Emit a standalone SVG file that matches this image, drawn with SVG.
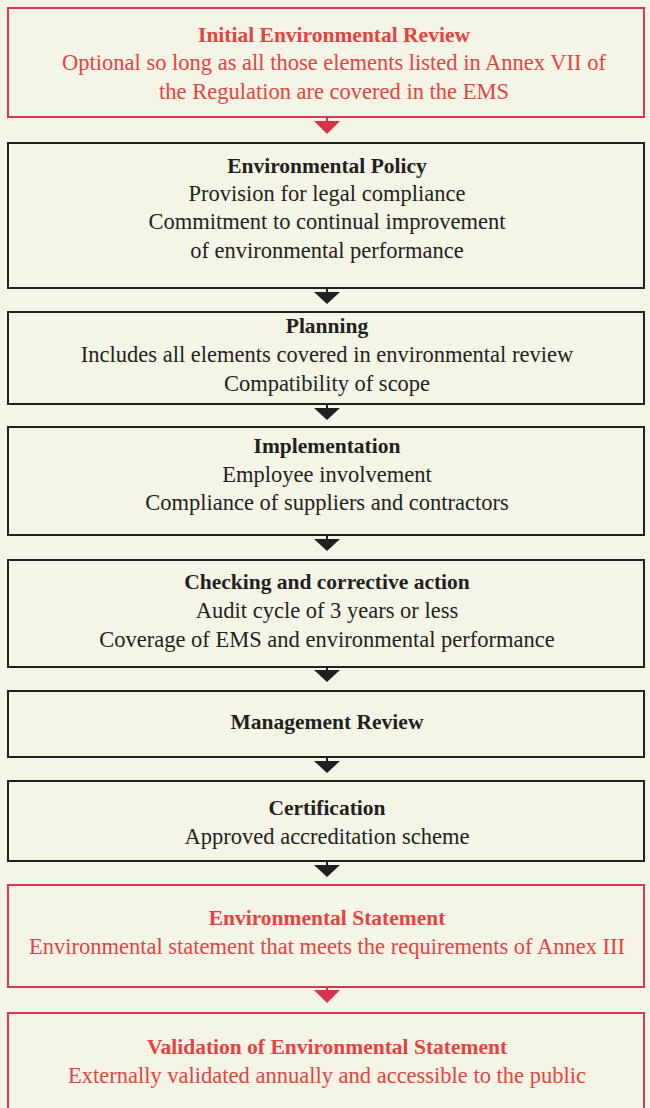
<svg xmlns="http://www.w3.org/2000/svg" width="650" height="1108" viewBox="0 0 650 1108">
<style>
.bg{fill:#f5f5e7}
.box{fill:#f5f5e7;stroke:#231f20;stroke-width:2}
.rbox{fill:#f5f5e7;stroke:#d8394f;stroke-width:2}
text{font-family:"Liberation Serif",serif;font-size:22.5px;text-anchor:middle}
.t{fill:#231f20}
.r{fill:#e8423f}
.h{font-weight:bold;font-size:21.5px}
.ka{fill:#231f20}
.ra{fill:#d6334f}
.kl{stroke:#231f20;stroke-width:2}
.rl{stroke:#d6334f;stroke-width:2}
</style>
<rect class="bg" x="0" y="0" width="650" height="1108"/>
<g id="connectors">
<line class="rl" x1="327" y1="117" x2="327" y2="122"/><polygon class="ra" points="314,121 340,121 327,134"/>
<line class="kl" x1="327" y1="288" x2="327" y2="293"/><polygon class="ka" points="314,292 340,292 327,304"/>
<line class="kl" x1="327" y1="404" x2="327" y2="409"/><polygon class="ka" points="314,408 340,408 327,420"/>
<line class="kl" x1="327" y1="535" x2="327" y2="540"/><polygon class="ka" points="314,539 340,539 327,551"/>
<line class="kl" x1="327" y1="667" x2="327" y2="671"/><polygon class="ka" points="314,670 340,670 327,682"/>
<line class="kl" x1="327" y1="757" x2="327" y2="762"/><polygon class="ka" points="314,761 340,761 327,773"/>
<line class="kl" x1="327" y1="861" x2="327" y2="866"/><polygon class="ka" points="314,865 340,865 327,877"/>
<line class="rl" x1="327" y1="987" x2="327" y2="991"/><polygon class="ra" points="314,990 340,990 327,1003"/>
</g>
<g id="n1">
<rect class="rbox" x="8" y="8" width="636" height="109"/>
<text class="r h" x="334" y="42">Initial Environmental Review</text>
<text class="r" x="334" y="70">Optional so long as all those elements listed in Annex VII of</text>
<text class="r" x="334" y="99">the Regulation are covered in the EMS</text>
</g>
<g id="n2">
<rect class="box" x="8" y="143" width="636" height="145"/>
<text class="t h" x="327" y="173">Environmental Policy</text>
<text class="t" x="327" y="201">Provision for legal compliance</text>
<text class="t" x="327" y="229">Commitment to continual improvement</text>
<text class="t" x="327" y="258">of environmental performance</text>
</g>
<g id="n3">
<rect class="box" x="8" y="312" width="636" height="92"/>
<text class="t h" x="327" y="333">Planning</text>
<text class="t" x="327" y="362">Includes all elements covered in environmental review</text>
<text class="t" x="327" y="391">Compatibility of scope</text>
</g>
<g id="n4">
<rect class="box" x="8" y="427" width="636" height="108"/>
<text class="t h" x="327" y="453">Implementation</text>
<text class="t" x="327" y="482">Employee involvement</text>
<text class="t" x="327" y="510">Compliance of suppliers and contractors</text>
</g>
<g id="n5">
<rect class="box" x="8" y="560" width="636" height="107"/>
<text class="t h" x="327" y="589">Checking and corrective action</text>
<text class="t" x="327" y="618">Audit cycle of 3 years or less</text>
<text class="t" x="327" y="647">Coverage of EMS and environmental performance</text>
</g>
<g id="n6">
<rect class="box" x="8" y="691" width="636" height="66"/>
<text class="t h" x="327" y="729">Management Review</text>
</g>
<g id="n7">
<rect class="box" x="8" y="781" width="636" height="80"/>
<text class="t h" x="327" y="815">Certification</text>
<text class="t" x="327" y="844">Approved accreditation scheme</text>
</g>
<g id="n8">
<rect class="rbox" x="8" y="885" width="636" height="102"/>
<text class="r h" x="327" y="925">Environmental Statement</text>
<text class="r" x="327" y="954">Environmental statement that meets the requirements of Annex III</text>
</g>
<g id="n9">
<rect class="rbox" x="8" y="1013" width="636" height="110"/>
<text class="r h" x="327" y="1054">Validation of Environmental Statement</text>
<text class="r" x="327" y="1083">Externally validated annually and accessible to the public</text>
</g>
</svg>
